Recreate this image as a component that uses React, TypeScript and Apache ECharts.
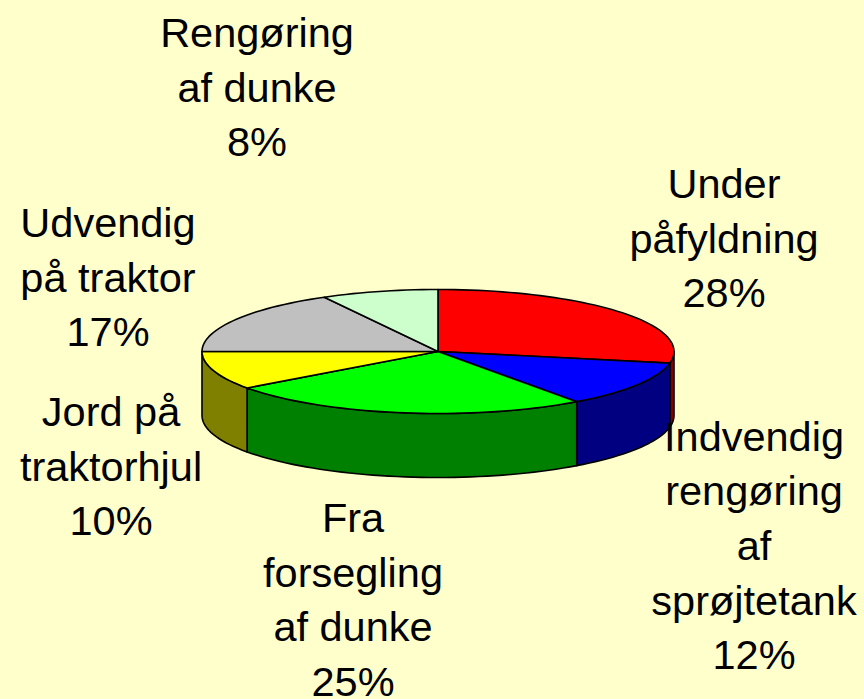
import React, { useEffect, useRef } from "react";
import * as echarts from "echarts";

const names = [
  "Under\npåfyldning",
  "Indvendig\nrengøring\naf\nsprøjtetank",
  "Fra\nforsegling\naf dunke",
  "Jord på\ntraktorhjul",
  "Udvendig\npå traktor",
  "Rengøring\naf dunke",
];
const shares = [28, 12, 25, 10, 17, 8];
const topColors = ["#FF0000", "#0000FF", "#00FF00", "#FFFF00", "#C0C0C0", "#CCFFCC"];
const wallColors = ["#800000", "#000080", "#008000", "#808000", "#606060", "#668066"];
const labelX = [724, 754, 353, 111, 108, 257];
const labelY = [238, 545.5, 599.5, 466, 277, 87];

const CX = 438;
const CY = 351.5;
const RX = 236;
const RY = 62;
const DEPTH = 64;

function rim(deg: number, drop = 0): number[] {
  const r = (deg * Math.PI) / 180;
  return [CX + RX * Math.sin(r), CY - RY * Math.cos(r) + drop];
}

function arc(from: number, to: number, drop = 0): number[][] {
  const n = Math.max(2, Math.ceil((to - from) / 2));
  const out: number[][] = [];
  for (let i = 0; i <= n; i++) out.push(rim(from + ((to - from) * i) / n, drop));
  return out;
}

export default function App() {
  const ref = useRef<HTMLDivElement>(null);
  useEffect(() => {
    document.body.style.margin = "0";
    const chart = echarts.init(ref.current!, undefined, { renderer: "svg" });
    const total = shares.reduce((a, b) => a + b, 0);
    const stroke = { stroke: "#000000", lineWidth: 1.6, lineJoin: "round" };
    chart.setOption({
      animation: false,
      backgroundColor: "#FFFFCC",
      series: [
        {
          type: "custom",
          coordinateSystem: "none",
          silent: true,
          data: shares.map((value, i) => ({ value: [value], name: names[i].replace(/\n/g, " ") })),
          renderItem: (params: any, api: any) => {
            const i = params.dataIndex;
            const before = shares.slice(0, i).reduce((a, b) => a + b, 0);
            const start = (before / total) * 360;
            const end = start + (api.value(0) / total) * 360;
            const children: any[] = [];
            const a = Math.max(start, 90);
            const b = Math.min(end, 270);
            if (a < b) {
              children.push({
                type: "polygon",
                shape: { points: [...arc(a, b), ...arc(a, b, DEPTH).reverse()] },
                style: { fill: wallColors[i], ...stroke },
              });
            }
            children.push({
              type: "polygon",
              shape: { points: [[CX, CY], ...arc(start, end)] },
              style: { fill: topColors[i], ...stroke },
            });
            return { type: "group", children };
          },
        },
      ],
      graphic: names.map((name, i) => ({
        type: "text",
        x: labelX[i],
        y: labelY[i],
        z: 10,
        silent: true,
        style: {
          text: `${name}\n${shares[i]}%`,
          fill: "#000000",
          font: '41.5px "Liberation Sans", Arial, sans-serif',
          lineHeight: 54.6,
          align: "center",
          verticalAlign: "middle",
        },
      })),
    });
    return () => chart.dispose();
  }, []);
  return <div ref={ref} style={{ width: 864, height: 699 }} />;
}
